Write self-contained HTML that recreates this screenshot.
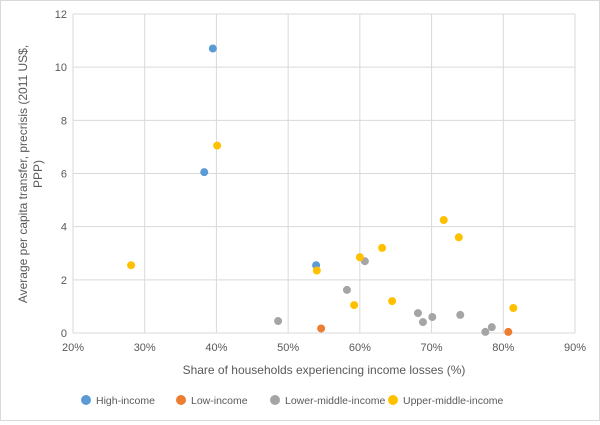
<!DOCTYPE html>
<html><head><meta charset="utf-8"><style>
body{margin:0;background:#fff;font-family:"Liberation Sans",sans-serif;}
#c{position:relative;width:598px;height:419px;border:1px solid #d9d9d9;}
svg text{font-family:"Liberation Sans",sans-serif;fill:#595959;}
</style></head><body>
<div id="c">
<svg id="s" width="598" height="419"></svg>
</div>
<script>
const seriesNames=["High-income","Low-income","Lower-middle-income","Upper-middle-income"];
const seriesColors=["#5b9bd5","#ed7d31","#a5a5a5","#ffc000"];
const highX=[39.5,38.3,53.9];
const highY=[10.7,6.05,2.55];
const lowX=[54.6,80.7];
const lowY=[0.17,0.04];
const lmX=[48.6,58.2,60.7,68.1,68.8,70.1,74.0,77.5,78.4];
const lmY=[0.45,1.62,2.7,0.75,0.41,0.6,0.68,0.04,0.22];
const umX=[28.1,40.1,54.0,59.2,60.0,63.1,64.5,71.7,73.8,81.4];
const umY=[2.55,7.05,2.35,1.05,2.85,3.2,1.2,4.25,3.6,0.94];
const xTicks=[20,30,40,50,60,70,80,90];
const yTicks=[0,2,4,6,8,10,12];
const NS="http://www.w3.org/2000/svg";
const s=document.getElementById('s');
const X0=72,X1=574,Y0=332,Y1=13;
const xs=v=>X0+(v-20)/70*(X1-X0);
const ys=v=>Y0-v/12*(Y0-Y1);
function mk(t,a){const e=document.createElementNS(NS,t);for(const k in a)e.setAttribute(k,a[k]);s.appendChild(e);return e;}
xTicks.forEach(t=>{
 const l=mk('line',{x1:xs(t),x2:xs(t),y1:Y1,y2:Y0,stroke:'#d9d9d9'});
 
 
 const tx=mk('text',{x:xs(t),y:Y0+18,'text-anchor':'middle','font-size':11});
 tx.textContent=t+'%';
 
 
});
yTicks.forEach(t=>{
 const l=mk('line',{x1:X0,x2:X1,y1:ys(t),y2:ys(t),stroke:'#d9d9d9'});
 
 
 const tx=mk('text',{x:X0-6,y:ys(t)+4,'text-anchor':'end','font-size':11});
 tx.textContent=t;
 
 
});
const all=[[highX,highY],[lowX,lowY],[lmX,lmY],[umX,umY]];
all.forEach((d,i)=>{
 d[0].forEach((x,j)=>{
  const c=mk('circle',{cx:xs(x),cy:ys(d[1][j]),r:4,fill:seriesColors[i]});
  
  
 });
});
const xt=mk('text',{x:323,y:373,'text-anchor':'middle','font-size':12});
xt.textContent='Share of households experiencing income losses (%)';


const yt=mk('text',{transform:'translate(26,173) rotate(-90)','text-anchor':'middle','font-size':12});
yt.innerHTML='<tspan x="0" dy="0">Average per capita transfer, precrisis (2011 US$,</tspan><tspan x="0" dy="15">PPP)</tspan>';


const lx=[85,180,274,392];
seriesNames.forEach((n,i)=>{
 const c=mk('circle',{cx:lx[i],cy:399,r:5,fill:seriesColors[i]});
 
 
 const t=mk('text',{x:lx[i]+10,y:403,'font-size':10.5});
 t.textContent=n;
 
 
});
</script>
</body></html>
